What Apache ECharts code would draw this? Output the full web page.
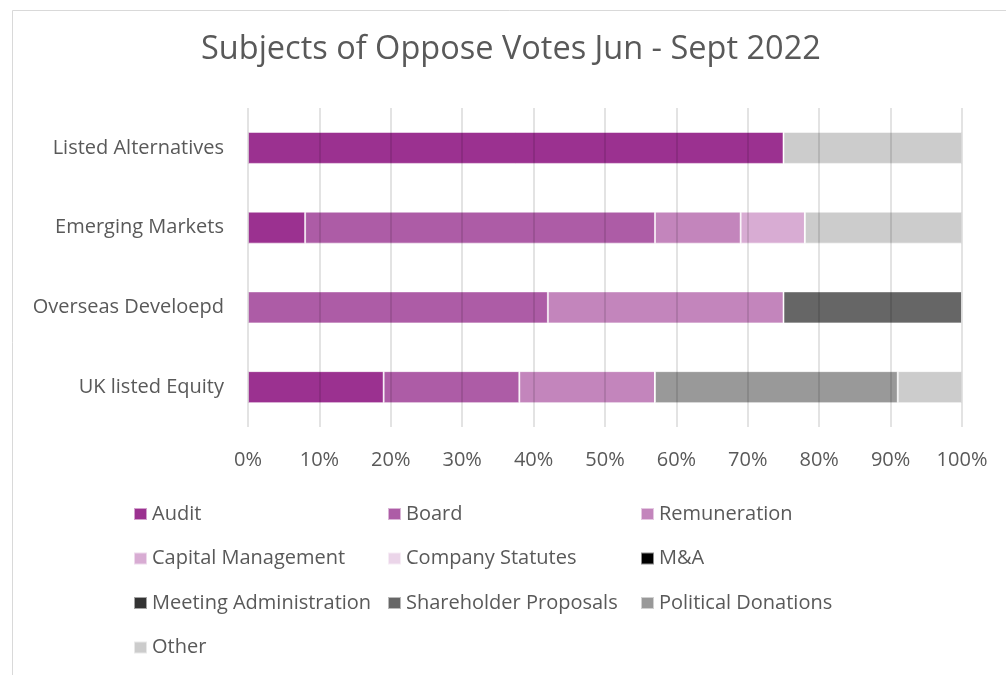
<!DOCTYPE html>
<html>
<head>
<meta charset="utf-8">
<script src="https://cdn.jsdelivr.net/npm/echarts@6/dist/echarts.min.js"></script>
<style>
  html, body { margin: 0; padding: 0; background: #fff; }
  #chart { width: 1006px; height: 675px; }
</style>
</head>
<body>
<div id="chart"></div>
<script>
// Fund categories, listed bottom-to-top for the category axis
const categories = ['UK listed Equity', 'Overseas Develoepd', 'Emerging Markets', 'Listed Alternatives'];

// Share of oppose votes by subject (%), one value per category above
const audit = [19, 0, 8, 75];
const board = [19, 42, 49, 0];
const remuneration = [19, 33, 12, 0];
const capitalManagement = [0, 0, 9, 0];
const companyStatutes = [0, 0, 0, 0];
const mAndA = [0, 0, 0, 0];
const meetingAdministration = [0, 0, 0, 0];
const shareholderProposals = [0, 25, 0, 0];
const politicalDonations = [34, 0, 0, 0];
const other = [9, 0, 22, 25];

const xTicks = { min: 0, max: 100, interval: 10 };

const subjects = [
  { name: 'Audit', data: audit, color: '#9b3190' },
  { name: 'Board', data: board, color: '#ad5ca6' },
  { name: 'Remuneration', data: remuneration, color: '#c385bc' },
  { name: 'Capital Management', data: capitalManagement, color: '#d8acd3' },
  { name: 'Company Statutes', data: companyStatutes, color: '#ebd5e9' },
  { name: 'M&A', data: mAndA, color: '#000000' },
  { name: 'Meeting Administration', data: meetingAdministration, color: '#333333' },
  { name: 'Shareholder Proposals', data: shareholderProposals, color: '#666666' },
  { name: 'Political Donations', data: politicalDonations, color: '#999999' },
  { name: 'Other', data: other, color: '#cccccc' }
];

const FONT = '"Open Sans", sans-serif';
const TEXT = '#595959';
const LABEL_SIZE = 20;

// Legend laid out in a three-column grid below the plot
const legendCols = [133, 387, 640];
const legends = subjects.map((s, i) => ({
  data: [s.name],
  left: legendCols[i % 3],
  top: 504 + Math.floor(i / 3) * 44.5,
  padding: 0,
  orient: 'horizontal',
  itemWidth: 13,
  itemHeight: 12,
  itemGap: 0,
  icon: 'rect',
  selectedMode: false,
  textStyle: { color: TEXT, fontSize: LABEL_SIZE, fontFamily: FONT }
}));

const chart = echarts.init(document.getElementById('chart'), null, { renderer: 'canvas' });
chart.setOption({
  backgroundColor: '#fff',
  animation: false,
  color: subjects.map(s => s.color),
  title: {
    text: 'Subjects of Oppose Votes Jun - Sept 2022',
    left: 201,
    top: 33,
    padding: 0,
    textStyle: { color: TEXT, fontSize: 32.5, fontWeight: 'normal', fontFamily: FONT }
  },
  graphic: [{
    type: 'polyline',
    shape: { points: [[12.5, 675], [12.5, 10.5], [1006, 10.5]] },
    style: { stroke: '#d9d9d9', lineWidth: 1, fill: null },
    silent: true
  }],
  legend: legends,
  grid: { left: 248, right: 44, top: 108, bottom: 248, containLabel: false },
  xAxis: {
    type: 'value',
    min: xTicks.min,
    max: xTicks.max,
    interval: xTicks.interval,
    z: 5,
    axisLine: { show: false },
    axisTick: { show: false },
    axisLabel: {
      formatter: '{value}%',
      color: TEXT,
      fontSize: LABEL_SIZE,
      fontFamily: FONT,
      margin: 23
    },
    splitLine: { show: true, lineStyle: { color: 'rgba(0,0,0,0.15)', width: 1.5 } }
  },
  yAxis: {
    type: 'category',
    data: categories,
    axisLine: { show: false },
    axisTick: { show: false },
    axisLabel: { color: TEXT, fontSize: LABEL_SIZE, fontFamily: FONT, margin: 24 }
  },
  series: subjects.map(s => ({
    name: s.name,
    type: 'bar',
    stack: 'total',
    data: s.data,
    barWidth: 32,
    itemStyle: { color: s.color, borderColor: 'rgba(255,255,255,0.55)', borderWidth: 1 }
  }))
});
</script>
</body>
</html>
